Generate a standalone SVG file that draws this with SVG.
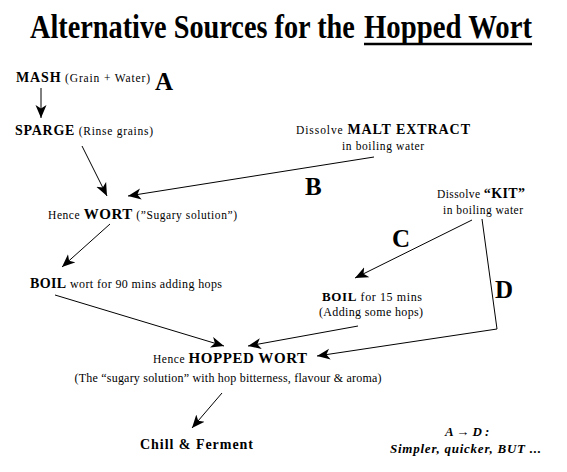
<svg xmlns="http://www.w3.org/2000/svg" width="567" height="472" viewBox="0 0 567 472">
<defs>
<marker id="ah" markerUnits="userSpaceOnUse" markerWidth="14" markerHeight="12" refX="13" refY="6" orient="auto">
<path d="M0,0.5 L13,6 L0,11.5 L3.5,6 z" fill="#000"/>
</marker>
<style>
text{font-family:"Liberation Serif","Times New Roman",serif;fill:#000}
.b{font-weight:bold}
.s{font-size:11.5px}
.m{font-size:12px}
.h{font-size:14px;font-weight:bold}
.big{font-size:25px;font-weight:bold}
.t{font-size:33px;font-weight:bold}
.bi{font-size:13px;font-weight:bold;font-style:italic}
.c line,.c polyline{stroke:#000;stroke-width:1;fill:none}
.c .a{marker-end:url(#ah)}
</style>
</defs>
<rect width="567" height="472" fill="#fff"/>
<g id="title">
<text class="t" transform="translate(30,38) scale(0.855,1)" x="0" y="0" textLength="380" lengthAdjust="spacingAndGlyphs">Alternative Sources for the</text>
<text class="t" transform="translate(364,38) scale(0.855,1)" x="0" y="0" textLength="196.5" lengthAdjust="spacingAndGlyphs">Hopped Wort</text>
<line x1="364" y1="44" x2="532" y2="44" stroke="#000" stroke-width="2.5"/>
</g>
<g id="mash">
<text x="16" y="82" textLength="134"><tspan class="h">MASH</tspan><tspan class="s"> (Grain + Water)</tspan></text>
</g>
<g id="labelA"><text class="big" x="155" y="90">A</text></g>
<g id="sparge">
<text x="15" y="135" textLength="138"><tspan class="h">SPARGE</tspan><tspan class="s"> (Rinse grains)</tspan></text>
</g>
<g id="malt">
<text x="296" y="134" textLength="174"><tspan class="s">Dissolve </tspan><tspan class="h">MALT EXTRACT</tspan></text>
<text class="s" x="383" y="150" text-anchor="middle" textLength="82">in boiling water</text>
</g>
<g id="labelB"><text class="big" x="305" y="195">B</text></g>
<g id="wort">
<text x="48" y="219" textLength="189"><tspan class="s">Hence </tspan><tspan class="h" style="font-size:15px">WORT</tspan><tspan class="s"> (”Sugary solution”)</tspan></text>
</g>
<g id="boil90">
<text x="30" y="288" textLength="192"><tspan class="h">BOIL</tspan><tspan class="m"> wort for 90 mins adding hops</tspan></text>
</g>
<g id="kit">
<text x="437" y="198" textLength="88"><tspan class="s">Dissolve </tspan><tspan class="h">“KIT”</tspan></text>
<text class="s" x="483" y="214" text-anchor="middle" textLength="80">in boiling water</text>
</g>
<g id="labelC"><text class="big" x="392" y="247">C</text></g>
<g id="labelD"><text class="big" x="495" y="298">D</text></g>
<g id="boil15">
<text x="322" y="301" textLength="100"><tspan class="h" style="font-size:13px">BOIL</tspan><tspan class="m"> for 15 mins</tspan></text>
<text class="m" x="371" y="316" text-anchor="middle" textLength="104">(Adding some hops)</text>
</g>
<g id="hopped">
<text x="153" y="363" textLength="154"><tspan class="s">Hence </tspan><tspan class="h" style="font-size:15px">HOPPED WORT</tspan></text>
<text class="m" x="228" y="382" text-anchor="middle" textLength="307">(The “sugary solution” with hop bitterness, flavour &amp; aroma)</text>
</g>
<g id="chill">
<text class="h" x="140" y="449" textLength="113">Chill &amp; Ferment</text>
</g>
<g id="note">
<text class="bi" x="445" y="436">A → D :</text>
<text class="bi" x="390" y="453" textLength="151">Simpler, quicker, BUT ...</text>
</g>
<g id="connectors" class="c">
<line class="a" x1="41" y1="88" x2="41" y2="118"/>
<line class="a" x1="82" y1="146" x2="107" y2="196"/>
<line class="a" x1="374" y1="157" x2="128" y2="196"/>
<line class="a" x1="110" y1="224" x2="62" y2="267"/>
<line class="a" x1="55" y1="295" x2="224" y2="346"/>
<line class="a" x1="472" y1="220" x2="355" y2="278"/>
<polyline class="a" points="482,219 497,329 317,356"/>
<line class="a" x1="358" y1="326" x2="248" y2="346"/>
<line class="a" x1="222" y1="393" x2="192" y2="428"/>
</g>
</svg>
